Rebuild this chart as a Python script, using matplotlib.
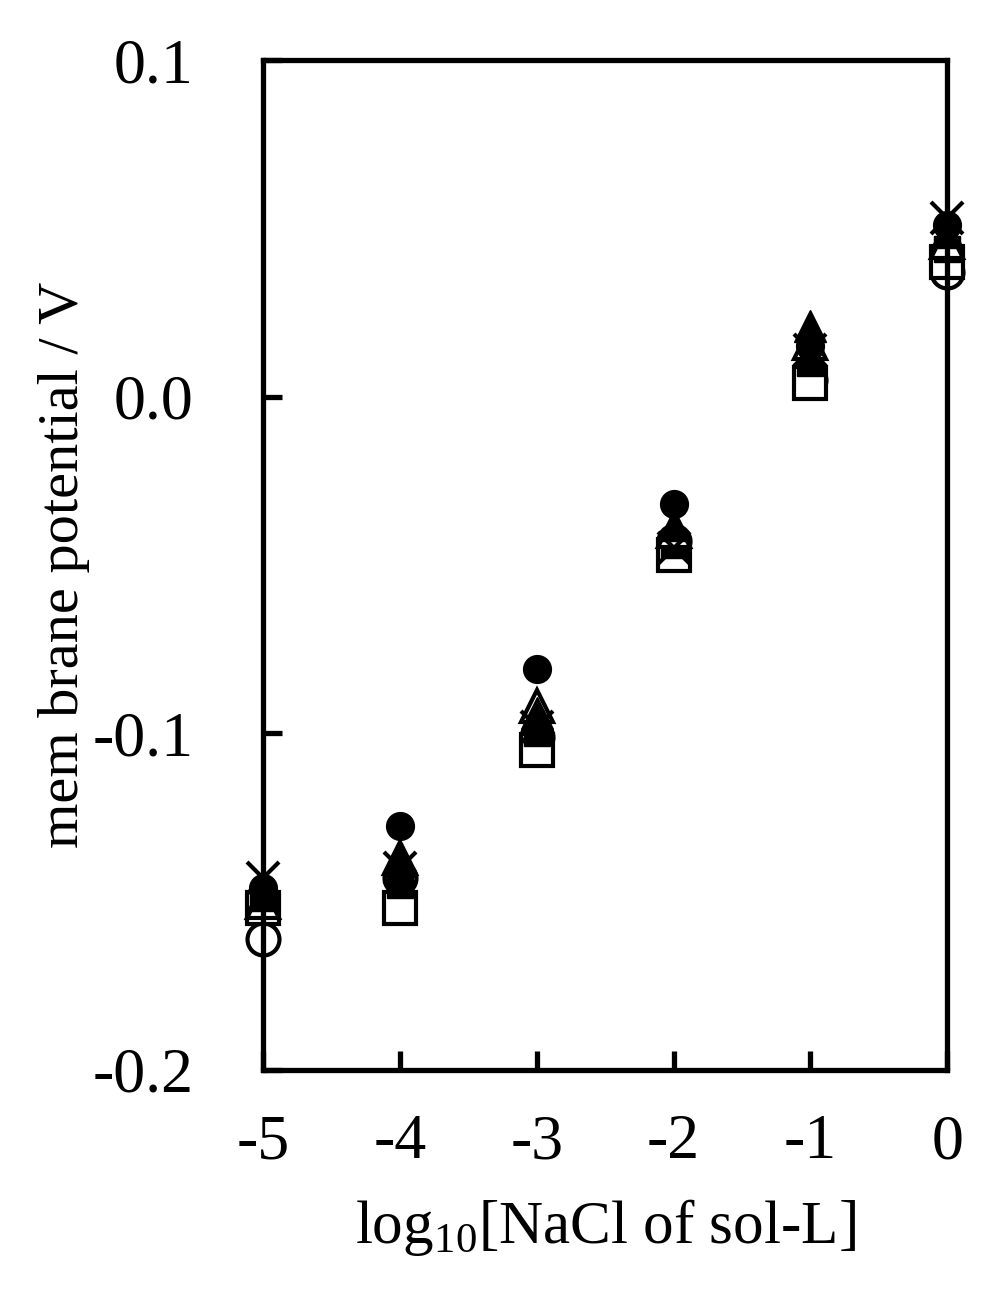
import numpy as np
import matplotlib.pyplot as plt

plt.rcParams['font.family'] = ['Liberation Serif', 'DejaVu Serif']
plt.rcParams['mathtext.fontset'] = 'custom'
plt.rcParams['mathtext.rm'] = 'Liberation Serif'

# log10 of NaCl concentration in sol-L
x = np.array([-5, -4, -3, -2, -1, 0])

# membrane potential / V, one list per series
filled_circle = [-0.146, -0.1275, -0.081, -0.032, 0.015, 0.051]
filled_triangle = [-0.148, -0.138, -0.094, -0.038, 0.021, 0.049]
open_triangle = [-0.150, -0.137, -0.092, -0.040, 0.016, 0.046]
cross = [-0.143, -0.140, -0.098, -0.045, 0.014, 0.053]
filled_square = [-0.149, -0.145, -0.100, -0.044, 0.010, 0.044]
open_square = [-0.152, -0.152, -0.105, -0.047, 0.004, 0.040]
open_circle = [-0.161, -0.143, -0.101, -0.043, 0.005, 0.037]

fig = plt.figure(figsize=(9.93, 12.91), dpi=100)
ax = fig.add_axes([0.265, 0.1712, 0.689, 0.7823])

ms = 23
ew = 3
ax.plot(x, open_circle, 'o', ms=ms, mfc='white', mec='black', mew=ew, ls='none')
ax.plot(x, open_square, 's', ms=ms, mfc='white', mec='black', mew=ew, ls='none')
ax.plot(x, filled_square, 's', ms=ms - 4, mfc='black', mec='black', ls='none')
ax.plot(x, open_triangle, '^', ms=ms, mfc='white', mec='black', mew=ew, ls='none')
ax.plot(x, filled_triangle, '^', ms=ms, mfc='black', mec='black', ls='none')
ax.plot(x, cross, 'x', ms=ms, mec='black', mew=ew, ls='none')
ax.plot(x, filled_circle, 'o', ms=ms - 3, mfc='black', mec='black', ls='none')

ax.set_xlim(-5, 0)
ax.set_ylim(-0.2, 0.1)
ax.set_xticks([-5, -4, -3, -2, -1, 0])
ax.set_xticklabels(['-5', '-4', '-3', '-2', '-1', '0'])
ax.set_yticks([-0.2, -0.1, 0.0, 0.1])
ax.set_yticklabels(['-0.2', '-0.1', '0.0', '0.1'])
ax.tick_params(direction='in', length=14, width=3.8, labelsize=46)
ax.tick_params(axis='y', pad=50)
ax.tick_params(axis='x', pad=32)

for sp in ax.spines.values():
    sp.set_linewidth(3.8)

ax.set_xlabel('log$_{10}$[NaCl of sol-L]', fontsize=44, labelpad=18)
ax.set_ylabel('mem brane potential / V', fontsize=42, labelpad=2)

for m in ax.lines:
    m.set_clip_on(False)

fig.savefig('out.png', dpi=100)
